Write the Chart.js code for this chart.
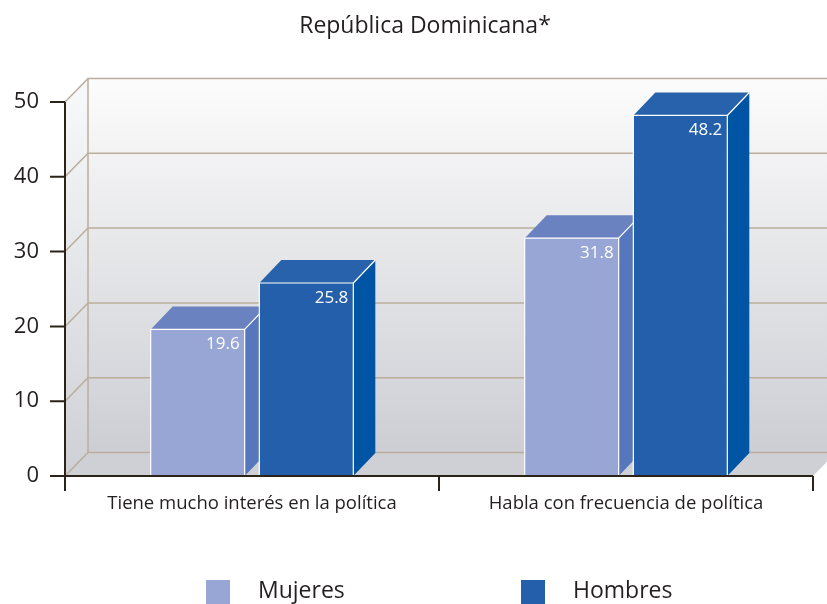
<!DOCTYPE html>
<html>
<head>
<meta charset="utf-8">
<script src="https://cdn.jsdelivr.net/npm/chart.js@4.4.1/dist/chart.umd.min.js"></script>
<style>
html, body { margin: 0; padding: 0; background: #fff; }
#wrap { width: 827px; height: 604px; position: relative; }
</style>
</head>
<body>
<div id="wrap"><canvas id="chart"></canvas></div>
<script>
const chartTitle = 'República Dominicana*';
const categories = ['Tiene mucho interés en la política', 'Habla con frecuencia de política'];
const seriesNames = ['Mujeres', 'Hombres'];
const mujeres = [19.6, 31.8];
const hombres = [25.8, 48.2];
const yTicks = [0, 10, 20, 30, 40, 50];

const fontFamily = '"Open Sans", "DejaVu Sans", sans-serif';
const textColor = '#231f20';
const axisColor = '#2b2319';
const gridColor = '#b9ae9c';

// front / top / side face colours per series
const faces = [
    { front: '#97a6d4', top: '#6a83c0', side: '#5677bc' },
    { front: '#245fab', top: '#2862ac', side: '#0054a4' }
];

const wallDepth = { x: 23, y: -23.5 };
const barDepth = { x: 22, y: -23 };

const box3d = {
    id: 'box3d',
    beforeDraw(chart) {
        const ctx = chart.ctx;
        const { left, right, top, bottom } = chart.chartArea;
        const yScale = chart.scales.y;
        const dx = wallDepth.x, dy = wallDepth.y;
        ctx.save();

        ctx.fillStyle = textColor;
        ctx.font = '23px ' + fontFamily;
        ctx.textAlign = 'center';
        ctx.textBaseline = 'middle';
        ctx.fillText(chartTitle, 425, 26);

        const wallFill = ctx.createLinearGradient(0, top + dy, 0, bottom + dy);
        wallFill.addColorStop(0, '#fcfcfc');
        wallFill.addColorStop(1, '#cdced4');
        ctx.fillStyle = wallFill;
        ctx.fillRect(left + dx, top + dy, chart.width - left - dx, bottom - top);

        const sideFill = ctx.createLinearGradient(0, top, 0, bottom);
        sideFill.addColorStop(0, '#f6f7f8');
        sideFill.addColorStop(1, '#cfd0d5');
        ctx.fillStyle = sideFill;
        ctx.beginPath();
        ctx.moveTo(left, top);
        ctx.lineTo(left + dx, top + dy);
        ctx.lineTo(left + dx, bottom + dy);
        ctx.lineTo(left, bottom);
        ctx.closePath();
        ctx.fill();

        // floor
        ctx.fillStyle = '#cfd0d5';
        ctx.beginPath();
        ctx.moveTo(left, bottom);
        ctx.lineTo(right, bottom);
        ctx.lineTo(right + dx, bottom + dy);
        ctx.lineTo(left + dx, bottom + dy);
        ctx.closePath();
        ctx.fill();

        // grid lines on side and back wall
        ctx.strokeStyle = gridColor;
        ctx.lineWidth = 1.5;
        yScale.ticks.forEach(t => {
            const y = yScale.getPixelForValue(t.value);
            ctx.beginPath();
            ctx.moveTo(left, y);
            ctx.lineTo(left + dx, y + dy);
            ctx.lineTo(chart.width, y + dy);
            ctx.stroke();
        });
        ctx.beginPath();
        ctx.moveTo(left + dx, top + dy);
        ctx.lineTo(left + dx, bottom + dy);
        ctx.stroke();
        ctx.restore();
    },
    beforeDatasetsDraw(chart) {
        const ctx = chart.ctx;
        const metas = chart.getSortedVisibleDatasetMetas();
        const bx = barDepth.x, by = barDepth.y;
        ctx.save();
        for (let i = 0; i < chart.data.labels.length; i++) {
            metas.forEach(meta => {
                const bar = meta.data[i];
                const c = faces[meta.index];
                const l = bar.x - bar.width / 2, r = bar.x + bar.width / 2;
                const y = bar.y, base = bar.base;

                ctx.fillStyle = c.side;
                ctx.beginPath();
                ctx.moveTo(r, y);
                ctx.lineTo(r + bx, y + by);
                ctx.lineTo(r + bx, base + by);
                ctx.lineTo(r, base);
                ctx.closePath();
                ctx.fill();

                ctx.fillStyle = c.top;
                ctx.beginPath();
                ctx.moveTo(l, y);
                ctx.lineTo(l + bx, y + by);
                ctx.lineTo(r + bx, y + by);
                ctx.lineTo(r, y);
                ctx.closePath();
                ctx.fill();

                ctx.fillStyle = c.front;
                ctx.fillRect(l, y, r - l, base - y);

                ctx.strokeStyle = '#ffffff';
                ctx.lineWidth = 1.2;
                ctx.beginPath();
                ctx.moveTo(l, base);
                ctx.lineTo(l, y);
                ctx.lineTo(r, y);
                ctx.lineTo(r, base);
                ctx.moveTo(r, y);
                ctx.lineTo(r + bx, y + by);
                ctx.stroke();
            });
        }
        ctx.restore();
        return false;
    },
    afterDraw(chart) {
        const ctx = chart.ctx;
        const { left, right, top, bottom } = chart.chartArea;
        const yScale = chart.scales.y;
        ctx.save();

        // value labels
        ctx.fillStyle = '#ffffff';
        ctx.font = '17px ' + fontFamily;
        ctx.textAlign = 'right';
        ctx.textBaseline = 'middle';
        chart.getSortedVisibleDatasetMetas().forEach(meta => {
            const values = chart.data.datasets[meta.index].data;
            meta.data.forEach((bar, i) => {
                ctx.fillText(values[i].toFixed(1), bar.x + bar.width / 2 - 5, bar.y + 15);
            });
        });

        // axes
        ctx.strokeStyle = axisColor;
        ctx.lineWidth = 2;
        ctx.beginPath();
        ctx.moveTo(left, top);
        ctx.lineTo(left, bottom + 15);
        ctx.moveTo(left, bottom);
        ctx.lineTo(right, bottom);
        const catWidth = (right - left) / chart.data.labels.length;
        for (let i = 1; i <= chart.data.labels.length; i++) {
            ctx.moveTo(left + i * catWidth, bottom);
            ctx.lineTo(left + i * catWidth, bottom + 15);
        }
        yScale.ticks.forEach(t => {
            const y = yScale.getPixelForValue(t.value);
            ctx.moveTo(left - 15, y);
            ctx.lineTo(left, y);
        });
        ctx.stroke();

        // legend
        ctx.font = '23px ' + fontFamily;
        ctx.textAlign = 'left';
        const legendX = [206, 521];
        chart.data.datasets.forEach((ds, s) => {
            ctx.fillStyle = ds.backgroundColor;
            ctx.fillRect(legendX[s], 580, 24, 24);
            ctx.fillStyle = textColor;
            ctx.fillText(ds.label, legendX[s] + 52, 591);
        });
        ctx.restore();
    }
};

new Chart(document.getElementById('chart'), {
    type: 'bar',
    data: {
        labels: categories,
        datasets: [
            { label: seriesNames[0], data: mujeres, backgroundColor: faces[0].front },
            { label: seriesNames[1], data: hombres, backgroundColor: faces[1].front }
        ]
    },
    options: {
        responsive: true,
        maintainAspectRatio: false,
        animation: false,
        layout: { padding: { top: 102, right: 14, bottom: 0, left: 0 } },
        categoryPercentage: 0.581,
        barPercentage: 0.865,
        plugins: {
            legend: { display: false },
            tooltip: { enabled: false },
            title: { display: false }
        },
        scales: {
            x: {
                grid: { display: false, drawTicks: false },
                border: { display: false },
                ticks: { color: textColor, font: { family: fontFamily, size: 18.5 }, padding: 17, maxRotation: 0 },
                afterFit(scale) { scale.height = 128; }
            },
            y: {
                min: 0,
                max: 50,
                grid: { display: false, drawTicks: false },
                border: { display: false },
                ticks: { color: textColor, font: { family: fontFamily, size: 22 }, padding: 26 },
                afterBuildTicks(scale) { scale.ticks = yTicks.map(v => ({ value: v })); },
                afterFit(scale) { scale.width = 65; }
            }
        }
    },
    plugins: [box3d]
});
</script>
</body>
</html>
